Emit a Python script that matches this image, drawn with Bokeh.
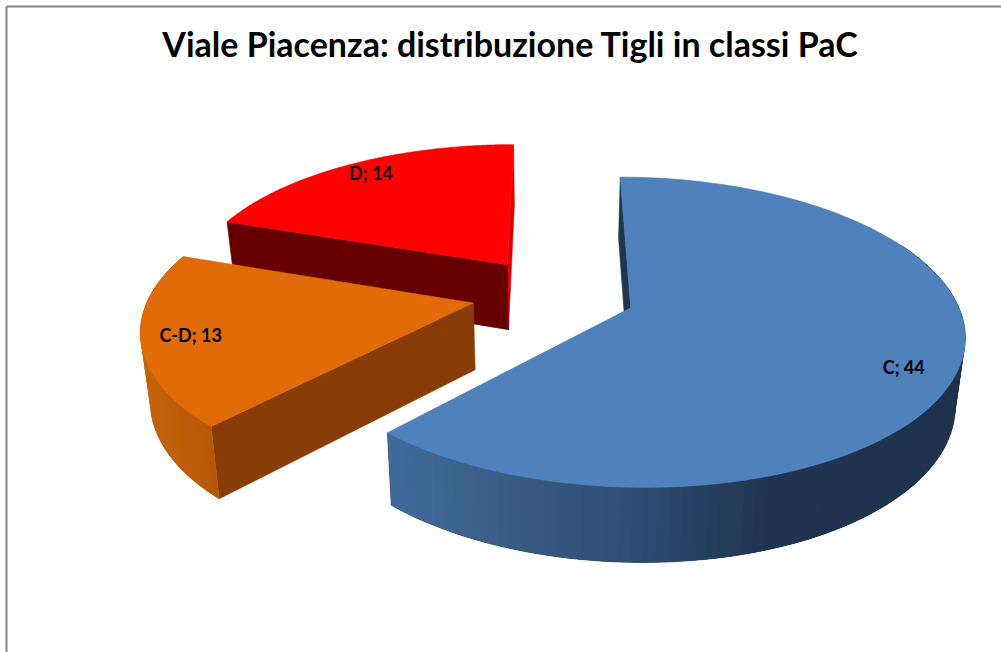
import numpy as np
from bokeh.plotting import figure
from bokeh.embed import file_html
from bokeh.resources import INLINE
from bokeh.core.properties import value

TITLE = "Viale Piacenza: distribuzione Tigli in classi PaC"
categories = ["C", "C-D", "D"]
values = [44, 13, 14]
top_colors = ["#4F81BD", "#E16B06", "#FF0000"]
start_wall_colors = ["#1F3551", "#873D05", "#660000"]
end_wall_colors = [None, None, "#DD0000"]
label_radius = [0.853, 0.855, 0.89]
label_shift = [3.9, 0.0, 1.3]

# projection of the exploded 3D pie onto the page
X0, Y0, A, B, P, EXPLODE = 553.0, 293.5, 323.5, 147.0, 0.155, 0.253
VX, KX, KY, DY = 550.0, 0.976, 1.045, 53.1


def project(wx, wy):
    s = 1.0 / (1.0 + P * np.asarray(wy))
    return X0 + A * np.asarray(wx) * s, Y0 - B * np.asarray(wy) * s


def drop(x, y):
    return VX + (x - VX) * KX, KY * y + DY


def mix(stops, x):
    xs = [q[0] for q in stops]
    rgb = [np.interp(x, xs, [q[1][c] for q in stops]) for c in range(3)]
    return "#%02x%02x%02x" % tuple(int(round(c)) for c in rgb)


wall_stops = {
    0: [(390, (64, 108, 156)), (520, (56, 90, 130)), (640, (46, 76, 114)), (770, (31, 52, 80)), (970, (30, 50, 76))],
    1: [(145, (196, 100, 10)), (220, (178, 86, 8))],
}

p = figure(width=1001, height=652, x_range=(0, 1001), y_range=(652, 0),
           output_backend="svg", toolbar_location=None, min_border=0)
p.axis.visible = False
p.grid.visible = False
p.outline_line_color = None
p.background_fill_color = "#FFFFFF"

# frame
p.multi_line([[6, 1001], [6, 6]], [[6, 6], [6, 652]], line_color="#868686", line_width=2)


def poly(xs, ys, color, lw=0.6):
    p.patch(list(xs), list(ys), fill_color=color, line_color=color if lw else None, line_width=lw or 1)


total = sum(values)
starts = np.cumsum([0] + values[:-1]) / total * 2 * np.pi
ends = np.cumsum(values) / total * 2 * np.pi

for i in [2, 1, 0]:
    a0, a1 = starts[i], ends[i]
    mid = (a0 + a1) / 2
    cx, cy = EXPLODE * np.sin(mid), EXPLODE * np.cos(mid)
    th = np.linspace(a0, a1, 120)
    ex, ey = project(cx + np.sin(th), cy + np.cos(th))
    ax, ay = project(cx, cy)
    bx, by = drop(ax, ay)
    fx, fy = drop(ex, ey)

    # flat wall at the end of the slice (only red shows it, as a sliver)
    if end_wall_colors[i]:
        poly([ex[-1], ax, bx, fx[-1]], [ey[-1], ay, by, fy[-1]], end_wall_colors[i])
    # flat wall at the start of the slice
    poly([ex[0], ax, bx, fx[0]], [ey[0], ay, by, fy[0]], start_wall_colors[i])
    # curved outer wall, shaded along x
    if i in wall_stops:
        keep = np.cos(th) < 0.45
        poly(np.r_[ex[keep], fx[keep][::-1]], np.r_[ey[keep], fy[keep][::-1]],
             mix(wall_stops[i], float(ex[keep].mean())))
        idx = np.where(keep)[0]
        for k in idx[:-2]:
            col = mix(wall_stops[i], (ex[k] + ex[k + 1]) / 2)
            poly([ex[k], ex[k + 2], fx[k + 2], fx[k]], [ey[k], ey[k + 2], fy[k + 2], fy[k]], col, lw=0)
    # top face
    poly(np.r_[ax, ex], np.r_[ay, ey], top_colors[i])

# labels
for i in range(3):
    mid = (starts[i] + ends[i]) / 2
    cx, cy = EXPLODE * np.sin(mid), EXPLODE * np.cos(mid)
    la = mid + np.radians(label_shift[i])
    lx, ly = project(cx + label_radius[i] * np.sin(la), cy + label_radius[i] * np.cos(la))
    p.text([float(lx)], [float(ly)], text=[f"{categories[i]}; {values[i]}"],
           text_font=value("Lato"), text_font_style="bold", text_font_size="18px",
           text_color="#000000", text_align="center", text_baseline="middle")

p.text([510], [43], text=[TITLE], text_font=value("Lato"), text_font_style="bold",
       text_font_size="34px", text_color="#000000", text_align="center", text_baseline="middle")

open("out.html", "w").write(file_html(p, INLINE))
